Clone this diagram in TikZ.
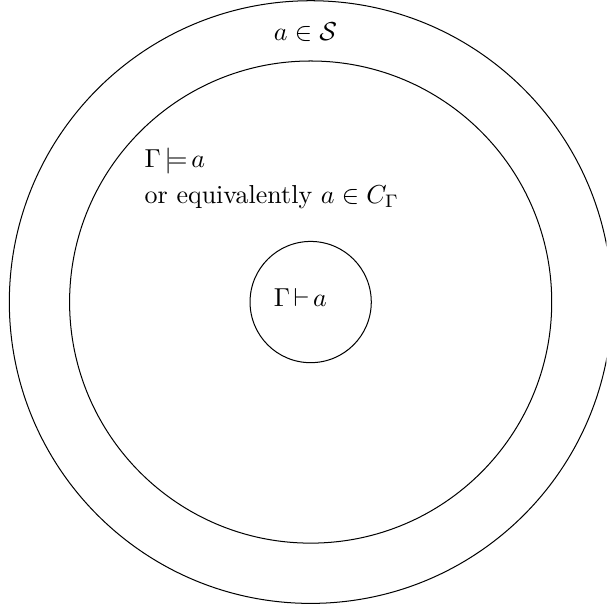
\documentclass[tikz,border=0pt]{standalone}
\usepackage{amsmath}
\usepackage{amssymb}
\usetikzlibrary{positioning}

\begin{document}
\begin{tikzpicture}
    \tikzset{ring/.style={draw, circle, inner sep=0pt},
             label text/.style={anchor=base west, inner sep=0pt, scale=1.03}}
    \useasboundingbox (-4.33,-4.32) rectangle (4.12,4.21);
    \clip (-4.33,-4.32) rectangle (4.12,4.21);

    % Nested circles
    \node[ring, minimum size=8.40cm] (sentences) at (0,0) {};
    \node[ring, minimum size=6.72cm] (consequences) at (0,0) {};
    \node[ring, minimum size=1.69cm] (provable) at (0,0) {};

    % Labels
    \node[label text] (inS) at (-0.52,3.64) {$a \in \mathcal{S}$};
    \node[label text] (models) at (-2.32,1.87) {$\Gamma \mkern-2.5mu\models\mkern-2.5mu a$};
    \node[label text] (equiv) at (-2.32,1.37) {or equivalently $a \in C_\Gamma$};
    \node[label text] (proves) at (-0.52,-0.056) {$\Gamma \mkern-2.5mu\vdash\mkern-2.5mu a$};
\end{tikzpicture}
\end{document}
